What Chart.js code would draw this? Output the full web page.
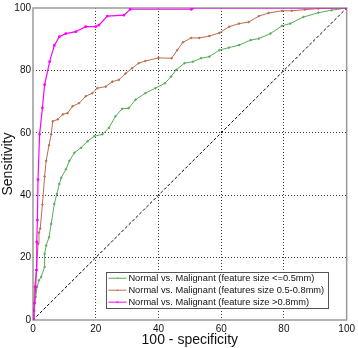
<!DOCTYPE html>
<html><head><meta charset="utf-8">
<script src="https://cdn.jsdelivr.net/npm/chart.js@4/dist/chart.umd.min.js"></script>
<style>html,body{margin:0;padding:0;background:#fff}#wrap{width:358px;height:348px}</style>
</head><body><div id="wrap"><canvas id="c" width="358" height="348"></canvas></div>
<script>
const seriesLabels = [
  'Normal vs. Malignant (feature size <=0.5mm)',
  'Normal vs. Malignant (features size 0.5-0.8mm)',
  'Normal vs. Malignant (feature size >0.8mm)'
];
const xTicks = [0, 20, 40, 60, 80, 100];
const smallX = [0,0.3,0.85,1.3,1.9,2.6,3.7,3.7,4.2,5.1,5.8,6.8,7.6,8.4,9,10.5,11.6,13.2,15.3,17.4,19.5,22.1,24.2,26.3,28.4,30.5,32.7,35.8,39,42.1,44,45.7,48.3,51,53.6,56.2,59.4,62.5,65.7,69.4,72,75.7,79.4,82,86.2,91,95.2,100];
const smallY = [0,3.2,7.4,10.6,12.7,13.8,17,21.2,23.9,26.5,30.8,37.2,40.4,43.6,45.6,48.3,51,53.6,55.2,57.3,58.9,59.5,61.6,65.3,67.7,67.9,70.6,72.7,74.3,75.9,78,80.2,82.3,82.8,83.9,84.4,86.5,87.3,88.1,89.7,90.2,91.8,94.3,95,97.1,98.5,99.3,100];
const midX = [0,0.3,0.5,1.1,1.6,1.9,2.3,3,3.7,4.2,5.1,5.8,6.3,7.9,9.5,11,12.6,14.7,16.8,18.9,20.5,23.2,25.3,27.4,29.5,31.6,33.7,35.8,40,44.2,46,47.8,50.4,53,56.2,59.4,62.5,65.7,68.8,72,75.1,79.4,82.5,86.7,91,100];
const midY = [0,5.4,10.6,16,24.4,28,29.3,37,46,51,56,59.5,63.7,64.3,65.9,66.3,68.5,69.5,71.7,72.7,74.3,74.8,76.4,77,79,80.7,82.3,83,84,83.9,86.5,89,90.4,90.4,91,92,94,95,95.5,97.4,98.4,99.1,99.1,99.5,99.8,100];
const largeX = [0,0.3,0.5,0.85,1.1,1.2,1.4,1.6,2.1,3,3.7,5.3,6.8,8.4,10.5,13.7,16.8,20,21,23.7,29,31,50.5,51,100];
const largeY = [0,3,5.4,10.6,16,25,32,45,59.5,68,75.4,82.8,88,90.8,91.8,92.4,94,94,94.5,97.4,97.7,99.6,99.6,100,100];
const chanceX = [0, 100];
const chanceY = [0, 100];

const colors = ['rgb(88,172,88)', 'rgb(188,108,78)', 'rgb(255,0,255)'];
const pts = (xs, ys) => xs.map((x, i) => ({x, y: ys[i]}));
const FONT = 'Liberation Sans, Arial, sans-serif';

const frame = {
  id: 'frame',
  beforeDatasetsDraw(chart) {
    const {ctx, chartArea: a} = chart;
    ctx.save();
    ctx.strokeStyle = '#9a9a9a';
    ctx.lineWidth = 1.5;
    ctx.strokeRect(a.left, a.top, a.right - a.left, a.bottom - a.top);
    ctx.restore();
  }
};
const boxLegend = {
  id: 'boxLegend',
  afterDatasetsDraw(chart) {
    const {ctx} = chart;
    const sx = chart.scales.x, sy = chart.scales.y;
    const x0 = sx.getPixelForValue(23.4), x1 = sx.getPixelForValue(94.3);
    const y0 = sy.getPixelForValue(15.3), y1 = sy.getPixelForValue(3.8);
    ctx.save();
    ctx.fillStyle = '#fff';
    ctx.fillRect(x0, y0, x1 - x0, y1 - y0);
    ctx.strokeStyle = '#555';
    ctx.lineWidth = 1;
    ctx.strokeRect(Math.round(x0) + 0.5, Math.round(y0) + 0.5, Math.round(x1 - x0), Math.round(y1 - y0));
    ctx.font = '9.3px ' + FONT;
    ctx.textBaseline = 'middle';
    const rowH = (y1 - y0) / 3;
    [0, 1, 2].forEach(i => {
      const ds = chart.data.datasets[i];
      const yy = y0 + rowH * (i + 0.5);
      ctx.strokeStyle = ds.borderColor;
      ctx.lineWidth = 1;
      ctx.beginPath(); ctx.moveTo(x0 + 2, yy); ctx.lineTo(x0 + 20, yy); ctx.stroke();
      ctx.fillStyle = ds.borderColor;
      ctx.beginPath(); ctx.arc(x0 + 11, yy, 0.8, 0, Math.PI * 2); ctx.fill();
      ctx.fillStyle = '#111';
      ctx.fillText(ds.label, x0 + 22, yy);
    });
    ctx.restore();
  }
};

new Chart(document.getElementById('c'), {
  type: 'line',
  data: {
    datasets: [
      {label: seriesLabels[0], data: pts(smallX, smallY), borderColor: colors[0], backgroundColor: colors[0], borderWidth: 1, pointRadius: 0.8, pointHoverRadius: 0.8, tension: 0, order: 3},
      {label: seriesLabels[1], data: pts(midX, midY), borderColor: colors[1], backgroundColor: colors[1], borderWidth: 1, pointRadius: 0.8, pointHoverRadius: 0.8, tension: 0, order: 2},
      {label: seriesLabels[2], data: pts(largeX, largeY), borderColor: colors[2], backgroundColor: colors[2], borderWidth: 1.2, pointRadius: 0.8, pointHoverRadius: 0.8, tension: 0, order: 1},
      {label: 'chance', data: pts(chanceX, chanceY), borderColor: '#000', borderWidth: 1, borderDash: [3, 2], pointRadius: 0, tension: 0, order: 4}
    ]
  },
  options: {
    responsive: false,
    animation: false,
    events: [],
    layout: {padding: {top: 5, right: 8, left: 0, bottom: 0}},
    plugins: {legend: {display: false}, tooltip: {enabled: false}},
    scales: {
      x: {
        type: 'linear', min: 0, max: 100,
        afterBuildTicks: s => { s.ticks = xTicks.map(v => ({value: v})); },
        afterFit: s => { s.height = 28; },
        ticks: {font: {size: 10, family: FONT}, color: '#111', padding: 3, maxRotation: 0},
        grid: {drawTicks: false, color: c => (c.tick && (c.tick.value === 0 || c.tick.value === 100)) ? 'rgba(0,0,0,0)' : '#3a3a3a', lineWidth: 1},
        border: {display: false, dash: [1, 2]},
        title: {display: true, text: '100 - specificity', font: {size: 14, family: FONT, lineHeight: 1}, color: '#111', padding: {top: 0, bottom: 1}}
      },
      y: {
        type: 'linear', min: 0, max: 100,
        afterBuildTicks: s => { s.ticks = xTicks.map(v => ({value: v})); },
        afterFit: s => { s.width = 33; },
        ticks: {font: {size: 10, family: FONT}, color: '#111', padding: 2},
        grid: {drawTicks: false, color: c => (c.tick && (c.tick.value === 0 || c.tick.value === 100)) ? 'rgba(0,0,0,0)' : '#3a3a3a', lineWidth: 1},
        border: {display: false, dash: [1, 2]},
        title: {display: true, text: 'Sensitivity', font: {size: 14, family: FONT, lineHeight: 1}, color: '#111', padding: {top: 1, bottom: 0}}
      }
    }
  },
  plugins: [frame, boxLegend]
});
</script>
</body></html>
